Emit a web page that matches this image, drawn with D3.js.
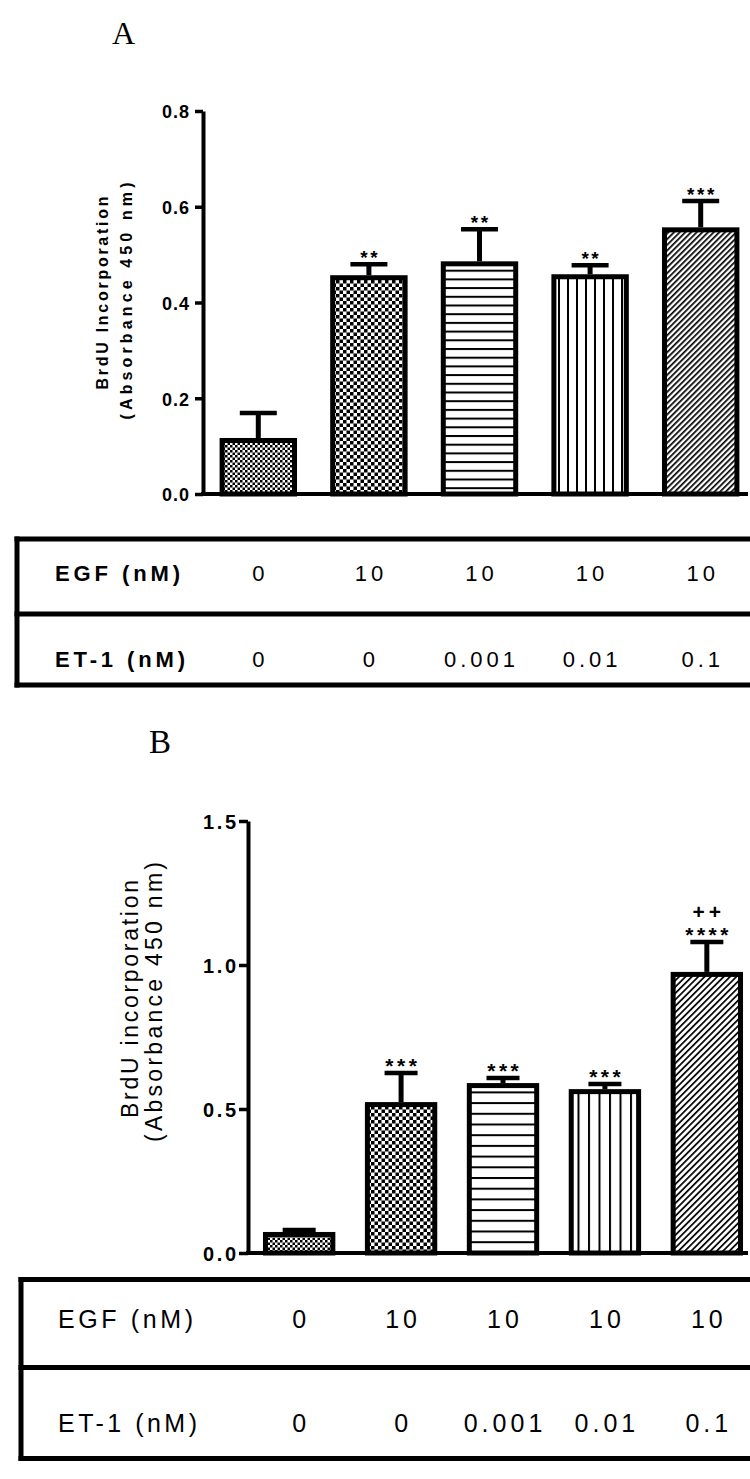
<!DOCTYPE html>
<html><head><meta charset="utf-8">
<script src="https://cdn.jsdelivr.net/npm/d3@7"></script>
<style>body{margin:0;background:#fff} svg{display:block}</style>
</head><body>
<svg id="c" width="750" height="1479"></svg>
<script>
// ---------- data ----------
const groups = ["G1", "G2", "G3", "G4", "G5"];
const egfLabels = ["0", "10", "10", "10", "10"];
const et1Labels = ["0", "0", "0.001", "0.01", "0.1"];
const patternNames = ["fineCheck", "check", "hlines", "vlines", "diag"];

const meanA = [0.117, 0.457, 0.486, 0.459, 0.557];
const semA  = [0.052, 0.023, 0.067, 0.019, 0.055];
const sigA  = ["", "**", "**", "**", "***"];
const ticksA = [0, 0.2, 0.4, 0.6, 0.8];

const meanB = [0.073, 0.524, 0.590, 0.569, 0.976];
const semB  = [0.007, 0.101, 0.018, 0.018, 0.104];
const sigB  = ["", "***", "***", "***", "****"];
const sigB2 = ["", "", "", "", "++"];
const ticksB = [0, 0.5, 1.0, 1.5];

// ---------- drawing ----------
const svg = d3.select("#c");
svg.append("rect").attr("width", 750).attr("height", 1479).attr("fill", "#fff");
const defs = svg.append("defs");
const SANS = "'Liberation Sans', Arial, sans-serif";
const SERIF = "'Liberation Serif', 'Times New Roman', serif";

function makePatterns(id, cfg) {
  let p = defs.append("pattern").attr("id", id + "fineCheck").attr("patternUnits", "userSpaceOnUse")
    .attr("width", cfg.fine).attr("height", cfg.fine);
  p.append("rect").attr("width", cfg.fine).attr("height", cfg.fine).attr("fill", "#fff");
  p.append("rect").attr("width", cfg.fine / 2).attr("height", cfg.fine / 2).attr("fill", "#000");
  p.append("rect").attr("x", cfg.fine / 2).attr("y", cfg.fine / 2).attr("width", cfg.fine / 2).attr("height", cfg.fine / 2).attr("fill", "#000");
  p = defs.append("pattern").attr("id", id + "check").attr("patternUnits", "userSpaceOnUse")
    .attr("width", cfg.coarse).attr("height", cfg.coarse);
  p.append("rect").attr("width", cfg.coarse).attr("height", cfg.coarse).attr("fill", "#fff");
  p.append("rect").attr("width", cfg.coarse / 2).attr("height", cfg.coarse / 2).attr("fill", "#000");
  p.append("rect").attr("x", cfg.coarse / 2).attr("y", cfg.coarse / 2).attr("width", cfg.coarse / 2).attr("height", cfg.coarse / 2).attr("fill", "#000");
  p = defs.append("pattern").attr("id", id + "hlines").attr("patternUnits", "userSpaceOnUse")
    .attr("width", 10).attr("height", cfg.h);
  p.append("rect").attr("width", 10).attr("height", cfg.h).attr("fill", "#fff");
  p.append("rect").attr("y", 0).attr("width", 10).attr("height", 2).attr("fill", "#000");
  p = defs.append("pattern").attr("id", id + "vlines").attr("patternUnits", "userSpaceOnUse")
    .attr("width", cfg.v).attr("height", 10);
  p.append("rect").attr("width", cfg.v).attr("height", 10).attr("fill", "#fff");
  p.append("rect").attr("x", 0).attr("width", 2).attr("height", 10).attr("fill", "#000");
  p = defs.append("pattern").attr("id", id + "diag").attr("patternUnits", "userSpaceOnUse")
    .attr("width", cfg.d).attr("height", cfg.d).attr("patternTransform", "rotate(45)");
  p.append("rect").attr("width", cfg.d).attr("height", cfg.d).attr("fill", "#fff");
  p.append("rect").attr("width", 1.7).attr("height", cfg.d).attr("fill", "#000");
}

function drawPanel(o) {
  makePatterns(o.id, o.pat);
  const g = svg.append("g");
  const x = d3.scaleBand().domain(groups).range(o.xRange).paddingInner(o.pin).paddingOuter(o.pout);
  const y = d3.scaleLinear().domain(o.yDomain).range(o.yRange);
  const bw = x.bandwidth();
  const sw = 5;

  g.selectAll("rect.bar").data(groups).join("rect").attr("class", "bar")
    .attr("x", d => x(d) + sw / 2)
    .attr("y", (d, i) => y(o.mean[i]) + sw / 2)
    .attr("width", bw - sw)
    .attr("height", (d, i) => y(0) - y(o.mean[i]) - sw / 2)
    .attr("fill", (d, i) => `url(#${o.id}${patternNames[i]})`)
    .attr("stroke", "#000").attr("stroke-width", sw);

  groups.forEach((d, i) => {
    const cx = x(d) + bw / 2;
    const yt = y(o.mean[i] + o.sem[i]);
    g.append("line").attr("x1", cx).attr("x2", cx).attr("y1", y(o.mean[i])).attr("y2", yt)
      .attr("stroke", "#000").attr("stroke-width", 5);
    g.append("line").attr("x1", cx - o.capW / 2).attr("x2", cx + o.capW / 2).attr("y1", yt).attr("y2", yt)
      .attr("stroke", "#000").attr("stroke-width", 4.5);
    if (o.sig[i]) {
      g.append("text").attr("x", cx + o.sigLs / 2).attr("y", yt - o.sigOff)
        .attr("text-anchor", "middle").attr("font-family", SANS).attr("font-weight", "bold")
        .attr("font-size", o.sigFs).attr("letter-spacing", o.sigLs).text(o.sig[i]);
    }
    if (o.sig2 && o.sig2[i]) {
      g.append("text").attr("x", cx + 2).attr("y", yt - o.sigOff - 23)
        .attr("text-anchor", "middle").attr("font-family", SANS).attr("font-weight", "bold")
        .attr("font-size", o.sigFs).attr("letter-spacing", 4).text(o.sig2[i]);
    }
  });

  const axisX = o.xRange[0];
  const ax = d3.axisLeft(y).tickValues(o.ticks).tickFormat(d3.format(".1f"))
    .tickSize(o.tickLen).tickSizeOuter(0).tickPadding(o.tickPad);
  const ga = g.append("g").attr("transform", `translate(${axisX},0)`).call(ax);
  ga.select(".domain").attr("stroke", "#000").attr("stroke-width", 4);
  ga.selectAll(".tick line").attr("stroke", "#000").attr("stroke-width", 3.5);
  ga.selectAll(".tick text").attr("fill", "#000").attr("font-family", SANS).attr("font-weight", "bold")
    .attr("font-size", o.tickFs).attr("dy", "0.38em")
    .attr("textLength", o.tickTL).attr("lengthAdjust", "spacing");
  g.append("line").attr("x1", axisX - 2).attr("x2", 748).attr("y1", y(0)).attr("y2", y(0))
    .attr("stroke", "#000").attr("stroke-width", 4);

  o.ylab.forEach(l => {
    g.append("text").attr("transform", `translate(${l.x},${l.y}) rotate(-90)`)
      .attr("text-anchor", "middle").attr("font-family", SANS).attr("font-weight", o.ylabW)
      .attr("font-size", o.ylabFs).attr("textLength", l.tl).attr("lengthAdjust", "spacing").text(l.t);
  });

  g.append("text").attr("x", o.letter.x).attr("y", o.letter.y).attr("font-family", SERIF)
    .attr("font-size", o.letter.fs).text(o.letter.t);

  const T = o.table;
  const tl = g.append("g");
  [T.top, T.mid, T.bot].forEach(yy => {
    tl.append("line").attr("x1", T.left - 2.5).attr("x2", 750).attr("y1", yy).attr("y2", yy)
      .attr("stroke", "#000").attr("stroke-width", 5);
  });
  tl.append("line").attr("x1", T.left).attr("x2", T.left).attr("y1", T.top - 2.5).attr("y2", T.bot + 2.5)
    .attr("stroke", "#000").attr("stroke-width", 5);
  const rows = [{lab: "EGF (nM)", vals: egfLabels, y: T.y1, tl: T.tl1},
                {lab: "ET-1 (nM)", vals: et1Labels, y: T.y2, tl: T.tl2}];
  rows.forEach(r => {
    tl.append("text").attr("x", T.labX).attr("y", r.y).attr("font-family", SANS)
      .attr("font-weight", T.labW).attr("font-size", T.fs).attr("textLength", r.tl)
      .attr("lengthAdjust", "spacing").text(r.lab);
    tl.selectAll(null).data(r.vals).join("text")
      .attr("x", (d, i) => x(groups[i]) + bw / 2 + T.ls / 2)
      .attr("y", r.y).attr("text-anchor", "middle").attr("font-family", SANS)
      .attr("font-size", T.fs).attr("letter-spacing", T.ls).text(d => d);
  });
}

drawPanel({
  id: "A", xRange: [203, 756], pin: 0.3, pout: 0.15,
  yDomain: [0, 0.8], yRange: [494, 111],
  mean: meanA, sem: semA, sig: sigA, sig2: null,
  capW: 37, sigFs: 19, sigLs: 2.5, sigOff: 0,
  ticks: ticksA, tickLen: 8, tickPad: 6, tickFs: 18, tickTL: 27,
  pat: {fine: 5, coarse: 7, h: 8.7, v: 9, d: 4},
  ylab: [{t: "BrdU Incorporation", x: 108, y: 293, tl: 193},
         {t: "(Absorbance 450 nm)", x: 132, y: 301, tl: 237}],
  ylabW: "bold", ylabFs: 16,
  letter: {t: "A", x: 112, y: 44, fs: 32},
  table: {left: 17, top: 539, mid: 614, bot: 685, y1: 581, y2: 667, labX: 55,
          labW: "bold", fs: 22, ls: 4, tl1: 125, tl2: 130}
});

drawPanel({
  id: "B", xRange: [248, 758], pin: 0.29, pout: 0.147,
  yDomain: [0, 1.5], yRange: [1253, 821],
  mean: meanB, sem: semB, sig: sigB, sig2: sigB2,
  capW: 33, sigFs: 21, sigLs: 3.5, sigOff: 0,
  ticks: ticksB, tickLen: 9, tickPad: 3, tickFs: 20, tickTL: 33,
  pat: {fine: 5, coarse: 7, h: 10.7, v: 10.5, d: 4.5},
  ylab: [{t: "BrdU incorporation", x: 138, y: 999, tl: 238},
         {t: "(Absorbance 450 nm)", x: 162, y: 1002, tl: 280}],
  ylabW: "normal", ylabFs: 23,
  letter: {t: "B", x: 149, y: 753, fs: 33},
  table: {left: 21, top: 1279.5, mid: 1367.5, bot: 1458.5, y1: 1328, y2: 1432, labX: 58,
          labW: "normal", fs: 25, ls: 4, tl1: 135, tl2: 139}
});
</script>
</body></html>
